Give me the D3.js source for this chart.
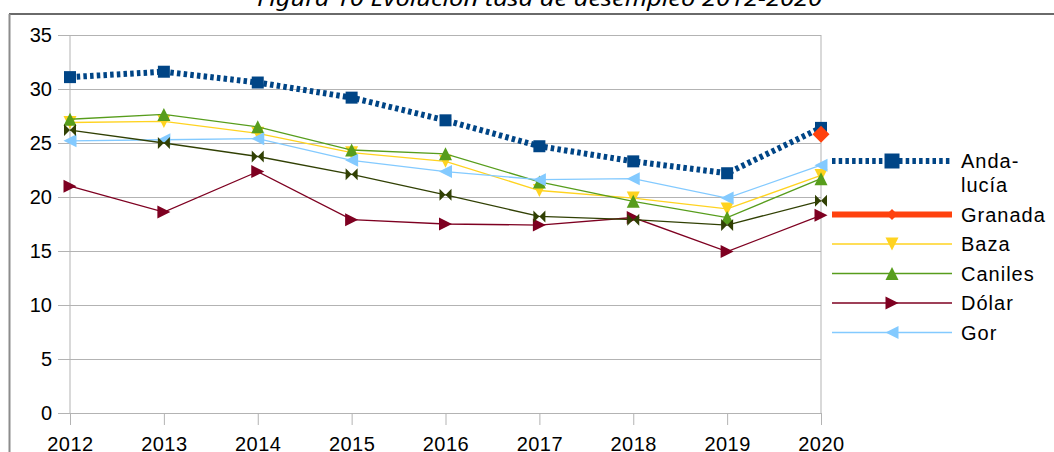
<!DOCTYPE html>
<html>
<head>
<meta charset="utf-8">
<script src="https://cdn.jsdelivr.net/npm/d3@7"></script>
<style>
  body { margin: 0; background: #fff; }
  text { font-family: "Liberation Sans", Arial, sans-serif; }
</style>
</head>
<body>
<div id="chart"></div>
<script>
var years = [2012, 2013, 2014, 2015, 2016, 2017, 2018, 2019, 2020];
var yTicks = [0, 5, 10, 15, 20, 25, 30, 35];

var andalucia = [31.1, 31.6, 30.6, 29.2, 27.1, 24.7, 23.3, 22.2, 26.4];
var granada   = [null, null, null, null, null, null, null, null, 25.8];
var baza      = [26.9, 27.0, 25.9, 24.1, 23.3, 20.6, 19.9, 18.9, 22.0];
var caniles   = [27.2, 27.65, 26.5, 24.35, 24.0, 21.4, 19.6, 18.1, 21.7];
var dolar     = [21.0, 18.6, 22.35, 17.9, 17.5, 17.4, 18.1, 14.95, 18.3];
var gor       = [25.2, 25.3, 25.4, 23.4, 22.35, 21.6, 21.7, 19.9, 22.95];
var serie7    = [26.2, 25.0, 23.75, 22.1, 20.2, 18.2, 17.9, 17.4, 19.65];

var series = [
  { name: ["Anda-", "lucía"], values: andalucia, color: "#004586", width: 6, dash: "3.5,3.2", marker: "square", size: 6, legSize: 7.5 },
  { name: ["Granada"], values: granada, color: "#ff420e", width: 6, dash: null, marker: "diamond", size: 8.5, legSize: 5.5 },
  { name: ["Baza"], values: baza, color: "#ffd320", width: 1.3, dash: null, marker: "down", size: 6.5, legSize: 6.5 },
  { name: ["Caniles"], values: caniles, color: "#579d1c", width: 1.3, dash: null, marker: "up", size: 6.5, legSize: 6.5 },
  { name: ["Dólar"], values: dolar, color: "#7e0021", width: 1.3, dash: null, marker: "right", size: 6.5, legSize: 6.5 },
  { name: ["Gor"], values: gor, color: "#83caff", width: 1.3, dash: null, marker: "left", size: 6.5, legSize: 6.5 },
  { name: null, values: serie7, color: "#314004", width: 1.3, dash: null, marker: "bowtie", size: 6, legSize: 6 }
];

var svgWidth = 1054;
var svgHeight = 452;

var svg = d3.select("#chart")
  .append("svg")
  .attr("width", svgWidth)
  .attr("height", svgHeight);

var x = d3.scaleLinear().domain([2012, 2020]).range([70, 821]);
var y = d3.scaleLinear().domain([0, 35]).range([413, 35]);

function markerPath(type, s) {
  switch (type) {
    case "square": return "M" + -s + "," + -s + "h" + 2 * s + "v" + 2 * s + "h" + -2 * s + "Z";
    case "diamond": return "M0," + -s + "L" + s + ",0L0," + s + "L" + -s + ",0Z";
    case "down": return "M" + -s + "," + -s + "L" + s + "," + -s + "L0," + s + "Z";
    case "up": return "M" + -s + "," + s + "L" + s + "," + s + "L0," + -s + "Z";
    case "right": return "M" + -s + "," + -s + "L" + s + ",0L" + -s + "," + s + "Z";
    case "left": return "M" + s + "," + -s + "L" + -s + ",0L" + s + "," + s + "Z";
    case "bowtie": return "M" + -s + "," + -s + "L0,0L" + -s + "," + s + "Z" +
                          "M" + s + "," + -s + "L0,0L" + s + "," + s + "Z";
  }
}

// frame
svg.append("line").attr("x1", 9).attr("x2", svgWidth).attr("y1", 14).attr("y2", 14)
  .attr("stroke", "#6a6a6a").attr("stroke-width", 2);
svg.append("line").attr("x1", 9.5).attr("x2", 9.5).attr("y1", 14).attr("y2", svgHeight)
  .attr("stroke", "#8c8c8c").attr("stroke-width", 2);

// title (cut off at the top)
svg.append("text")
  .attr("x", 539.5).attr("y", 6)
  .attr("text-anchor", "middle")
  .style("font-family", "'Noto Sans', 'Open Sans', sans-serif")
  .style("font-style", "italic")
  .style("font-size", "21px")
  .attr("textLength", 565)
  .attr("lengthAdjust", "spacingAndGlyphs")
  .attr("fill", "#000")
  .text("Figura 10 Evolución tasa de desempleo 2012-2020");

// Y grid + labels
var yAxis = svg.append("g")
  .attr("transform", "translate(58,0)")
  .call(d3.axisLeft(y).tickValues(yTicks).tickSize(-(821 - 58)).tickPadding(6));
yAxis.select(".domain").remove();
yAxis.selectAll("line").attr("stroke", "#b3b3b3");
yAxis.selectAll("text").style("font-size", "20px").attr("fill", "#000");

// vertical edges of plot area
svg.selectAll(".vedge")
  .data([years[0], years[years.length - 1]])
  .enter().append("line")
  .attr("x1", d => x(d)).attr("x2", d => x(d))
  .attr("y1", y(35)).attr("y2", y(0))
  .attr("stroke", "#b3b3b3");

// X axis
var xAxis = svg.append("g")
  .attr("transform", "translate(0," + y(0) + ")")
  .call(d3.axisBottom(x).tickValues(years).tickFormat(d3.format("d")).tickSizeInner(12).tickSizeOuter(0).tickPadding(12));
xAxis.select(".domain").attr("stroke", "#b3b3b3");
xAxis.selectAll("line").attr("stroke", "#b3b3b3");
xAxis.selectAll("text").style("font-size", "20px").style("letter-spacing", "0.5px").attr("fill", "#000");

// series
var line = d3.line()
  .defined(d => d.v != null)
  .x(d => x(d.year))
  .y(d => y(d.v));

series.forEach(function(s) {
  var pts = years.map((yr, i) => ({ year: yr, v: s.values[i] }));
  var g = svg.append("g");
  g.append("path")
    .datum(pts)
    .attr("d", line)
    .attr("fill", "none")
    .attr("stroke", s.color)
    .attr("stroke-width", s.width)
    .attr("stroke-dasharray", s.dash);
  g.selectAll("path.mk")
    .data(pts.filter(d => d.v != null))
    .enter().append("path")
    .attr("class", "mk")
    .attr("transform", d => "translate(" + x(d.year) + "," + y(d.v) + ")")
    .attr("d", markerPath(s.marker, s.size))
    .attr("fill", s.color);
});

// legend
var legY = 161;
var leg = svg.append("g");
series.filter(s => s.name).forEach(function(s) {
  var row = leg.append("g").attr("transform", "translate(0," + legY + ")");
  row.append("line")
    .attr("x1", 832).attr("x2", 952).attr("y1", 0).attr("y2", 0)
    .attr("stroke", s.color)
    .attr("stroke-width", s.width)
    .attr("stroke-dasharray", s.dash);
  row.append("path")
    .attr("transform", "translate(892,0)")
    .attr("d", markerPath(s.marker, s.legSize))
    .attr("fill", s.color);
  s.name.forEach(function(t, i) {
    row.append("text")
      .attr("x", 961).attr("y", 7 + i * 24)
      .style("font-size", "20px")
      .style("letter-spacing", "1px")
      .attr("fill", "#000")
      .text(t);
  });
  legY += 24 * s.name.length + 5.5;
});
</script>
</body>
</html>
